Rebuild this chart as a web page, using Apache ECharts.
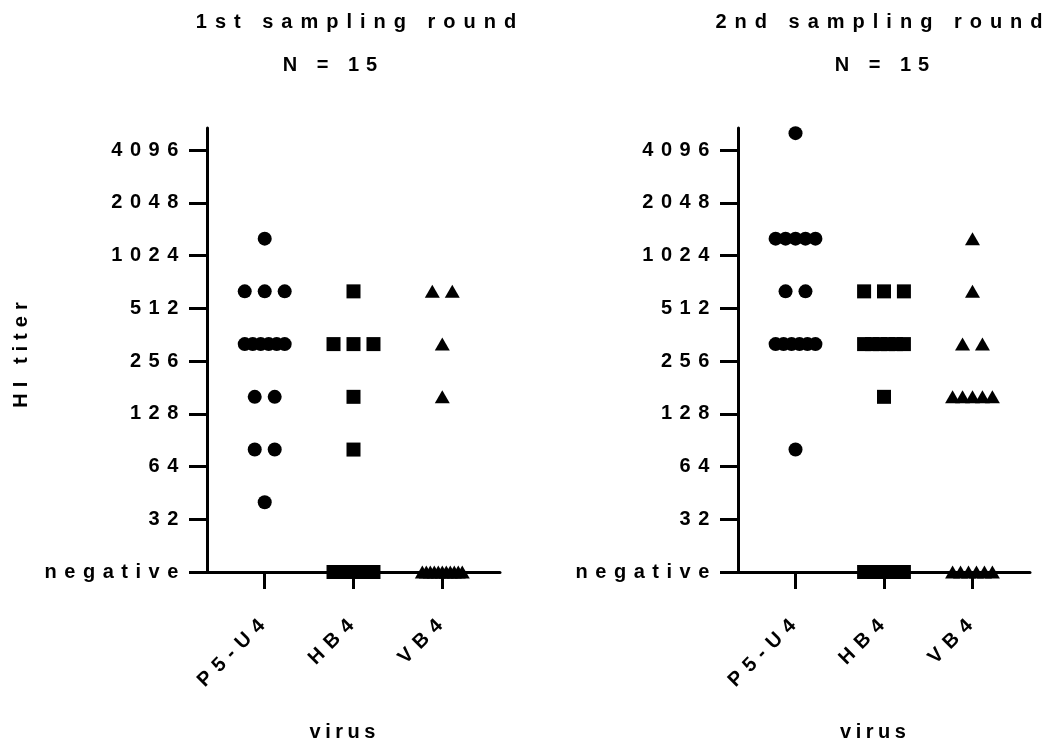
<!DOCTYPE html>
<html>
<head>
<meta charset="utf-8">
<script src="https://cdn.jsdelivr.net/npm/echarts@6/dist/echarts.min.js"></script>
<style>
  html, body { margin: 0; padding: 0; background: #ffffff; }
  #chart { width: 1056px; height: 746px; }
</style>
</head>
<body>
<div id="chart"></div>
<script>
// Virus antigens on the x axis
const viruses = ['P5-U4', 'HB4', 'VB4'];
const virusSymbols = ['circle', 'rect', 'triangle'];

// HI titer tick marks (0 stands for a negative result)
const titerTicks = [0, 32, 64, 128, 256, 512, 1024, 2048, 4096];

// HI titers per serum sample, 1st sampling round (0 = negative)
const round1P5U4 = [1280, 640, 640, 640, 320, 320, 320, 320, 320, 320, 160, 160, 80, 80, 40];
const round1HB4  = [640, 320, 320, 320, 160, 80, 0, 0, 0, 0, 0, 0, 0, 0, 0];
const round1VB4  = [640, 640, 320, 160, 0, 0, 0, 0, 0, 0, 0, 0, 0, 0, 0];

// HI titers per serum sample, 2nd sampling round (0 = negative)
const round2P5U4 = [5120, 1280, 1280, 1280, 1280, 1280, 640, 640, 320, 320, 320, 320, 320, 320, 80];
const round2HB4  = [640, 640, 640, 320, 320, 320, 320, 320, 320, 160, 0, 0, 0, 0, 0];
const round2VB4  = [1280, 640, 320, 320, 160, 160, 160, 160, 160, 0, 0, 0, 0, 0, 0];

const panelTitles = ['1st sampling round', '2nd sampling round'];
const panelSubtitle = 'N = 15';

const FONT = "'Liberation Sans', Arial, Helvetica, sans-serif";
const FONT_SIZE = 20;
const NEG_LEVEL = 4;            // log2 position used for "negative"
const Y_MAX = 12.42;
const STEP = 0.225;             // horizontal gap between neighbouring dots
const MAX_SPREAD = 0.45;        // widest a group of equal values may spread

function level(titer) {
  return titer === 0 ? NEG_LEVEL : Math.log2(titer);
}

// letter-spaced text built from rich-text tokens
function spaced(str) {
  return str.split('').map(function (c) { return '{s|' + c + '}'; }).join('');
}

function richStyle(size, gap) {
  const half = gap / 2;
  return { s: { fontFamily: FONT, fontWeight: 'bold', fontSize: size, color: '#000', padding: [0, half, 0, half] } };
}

// spread equal values side by side around the category centre
function scatterPoints(values, centre) {
  const groups = {};
  values.forEach(function (v) { (groups[v] = groups[v] || []).push(v); });
  const pts = [];
  Object.keys(groups).forEach(function (key) {
    const g = groups[key];
    const n = g.length;
    const step = n > 1 ? Math.min(STEP, MAX_SPREAD / (n - 1)) : 0;
    g.forEach(function (v, k) {
      pts.push([centre + (k - (n - 1) / 2) * step, level(v)]);
    });
  });
  return pts;
}

const panels = [
  [round1P5U4, round1HB4, round1VB4],
  [round2P5U4, round2HB4, round2VB4]
];

const grids = [
  { left: 207, width: 293, top: 128, height: 444, outerBoundsMode: 'none', containLabel: false },
  { left: 738, width: 292, top: 128, height: 444, outerBoundsMode: 'none', containLabel: false }
];

const tickLevels = titerTicks.map(level);
const axisLineStyle = { color: '#000', width: 3 };

const xAxes = grids.map(function (g, i) {
  return {
    type: 'value', gridIndex: i, min: 0.35, max: 3.65,
    splitLine: { show: false },
    axisLine: { show: true, onZero: false, lineStyle: axisLineStyle },
    axisTick: { show: true, length: 17, lineStyle: axisLineStyle, customValues: [1, 2, 3] },
    axisLabel: {
      customValues: [1, 2, 3], rotate: 45, margin: 48,
      formatter: function (v) { return spaced(viruses[Math.round(v) - 1]); },
      rich: richStyle(FONT_SIZE, 7.5)
    },
    name: spaced('virus'), nameLocation: 'middle', nameGap: 150,
    nameTextStyle: { padding: [0, 22, 0, 0], rich: richStyle(FONT_SIZE, 4.5) }
  };
});

const yAxes = grids.map(function (g, i) {
  return {
    type: 'value', gridIndex: i, min: NEG_LEVEL, max: Y_MAX,
    splitLine: { show: false },
    axisLine: { show: true, onZero: false, lineStyle: axisLineStyle },
    axisTick: { show: true, length: 18, lineStyle: axisLineStyle, customValues: tickLevels },
    axisLabel: {
      customValues: tickLevels, margin: 25,
      formatter: function (v) {
        const idx = tickLevels.indexOf(v);
        const t = titerTicks[idx];
        return spaced(t === 0 ? 'negative' : String(t));
      },
      rich: richStyle(FONT_SIZE, 7.5)
    },
    name: i === 0 ? spaced('HI titer') : '',
    nameLocation: 'middle', nameGap: 176, nameRotate: 90,
    nameTextStyle: { padding: [0, 10, 0, 0], rich: richStyle(FONT_SIZE, 6) }
  };
});

const series = [];
panels.forEach(function (cols, p) {
  cols.forEach(function (vals, c) {
    series.push({
      type: 'scatter',
      xAxisIndex: p, yAxisIndex: p,
      symbol: virusSymbols[c],
      symbolSize: c === 2 ? [15, 13] : 14,
      itemStyle: { color: '#000', opacity: 1 },
      emphasis: { disabled: true },
      data: scatterPoints(vals, c + 1)
    });
  });
});

const titleCentres = [[356, 330], [879, 882]];
const graphic = [];
titleCentres.forEach(function (cx, p) {
  graphic.push({
    type: 'text', x: cx[0], y: 22,
    style: { text: spaced(panelTitles[p]), align: 'center', verticalAlign: 'middle', rich: richStyle(FONT_SIZE, 8) }
  });
  graphic.push({
    type: 'text', x: cx[1], y: 65,
    style: { text: spaced(panelSubtitle), align: 'center', verticalAlign: 'middle', rich: richStyle(FONT_SIZE, 7) }
  });
});

const chart = echarts.init(document.getElementById('chart'), null, { renderer: 'canvas' });
chart.setOption({
  backgroundColor: '#ffffff',
  animation: false,
  grid: grids,
  xAxis: xAxes,
  yAxis: yAxes,
  series: series,
  graphic: graphic
});
</script>
</body>
</html>
